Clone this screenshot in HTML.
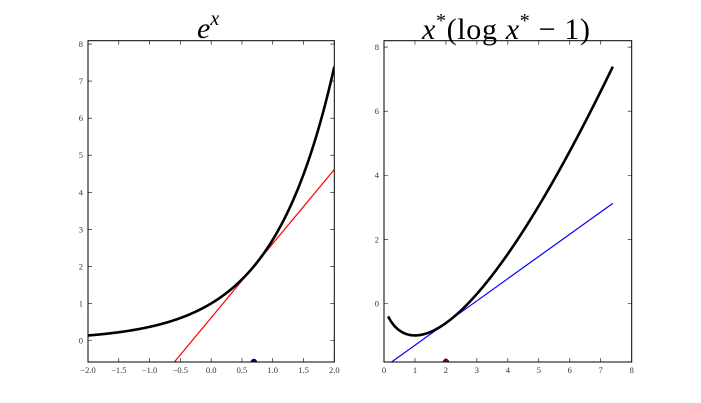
<!DOCTYPE html>
<html><head><meta charset="utf-8"><style>
html,body{margin:0;padding:0;background:#fff;width:701px;height:403px;overflow:hidden}
svg{display:block}
svg text{font-family:"Liberation Serif",serif}
</style></head><body>
<svg id="s" width="701" height="403" xmlns="http://www.w3.org/2000/svg">
<rect width="701" height="403" fill="#fff"/>
<text x="197" y="38" font-size="30" font-style="italic">e<tspan font-size="20" dy="-13">x</tspan></text>
<text x="422" y="39" font-size="30" textLength="168" lengthAdjust="spacing"><tspan font-style="italic">x</tspan><tspan font-size="20" dy="-12">*</tspan><tspan dy="12">(log </tspan><tspan font-style="italic">x</tspan><tspan font-size="20" dy="-12">*</tspan><tspan dy="12"> − 1)</tspan></text>
<g id="g"></g>
</svg>
<script>
var g=document.getElementById('g'),h='';
function ax(L,R,T,B,x0,x1,y0,y1,xt,yt,xfmt,f,fx0,fx1,tan,tc,dot,dc){
 var sx=function(x){return L+(x-x0)/(x1-x0)*(R-L)},sy=function(y){return B-(y-y0)/(y1-y0)*(B-T)};
 h+='<clipPath id="c'+L+'"><rect x="'+L+'" y="'+T+'" width="'+(R-L)+'" height="'+(B-T)+'"/></clipPath>';
 var p='';for(var i=0;i<=300;i++){var x=fx0+(fx1-fx0)*i/300;p+=(i?'L':'M')+sx(x).toFixed(2)+' '+sy(f(x)).toFixed(2);}
 h+='<g clip-path="url(#c'+L+')">';
 h+='<path d="M'+sx(fx0)+' '+sy(tan(fx0))+'L'+sx(fx1)+' '+sy(tan(fx1))+'" stroke="'+tc+'" stroke-width="1.2" fill="none"/>';
 h+='<path d="'+p+'" stroke="#000" stroke-width="2.6" fill="none"/>';
 h+='<circle cx="'+sx(dot)+'" cy="'+B+'" r="3" fill="'+dc+'" stroke="#000" stroke-width="0.5"/>';
 h+='</g>';
 h+='<rect x="'+L+'" y="'+T+'" width="'+(R-L)+'" height="'+(B-T)+'" fill="none" stroke="#000" stroke-width="1"/>';
 xt.forEach(function(t){var X=sx(t);h+='<path d="M'+X+' '+B+'v-4M'+X+' '+T+'v4" stroke="#000" stroke-width="0.6"/>';
  h+='<text x="'+X+'" y="'+(B+11)+'" font-size="8.5" fill="#333" text-anchor="middle">'+xfmt(t)+'</text>';});
 yt.forEach(function(t){var Y=sy(t);h+='<path d="M'+L+' '+Y+'h4M'+R+' '+Y+'h-4" stroke="#000" stroke-width="0.6"/>';
  h+='<text x="'+(L-5)+'" y="'+(Y+3)+'" font-size="8.5" fill="#333" text-anchor="end">'+t+'</text>';});
}
ax(88,334.3,40.7,362,-2,2,-0.58,8.09,[-2,-1.5,-1,-0.5,0,0.5,1,1.5,2],[0,1,2,3,4,5,6,7,8],
 function(t){return (t<0?'−':'')+Math.abs(t).toFixed(1)},Math.exp,-2,2,function(x){return 2*x+0.614},'#f00',Math.LN2,'#00008b');
ax(384,631.7,40.7,362,0,8,-1.83,8.2,[0,1,2,3,4,5,6,7,8],[0,2,4,6,8],
 function(t){return t},function(x){return x*(Math.log(x)-1)},Math.exp(-2),Math.exp(2),function(x){return -0.6137+Math.LN2*(x-2)},'#00f',2,'#b00');
g.innerHTML=h;
</script>
</body></html>
